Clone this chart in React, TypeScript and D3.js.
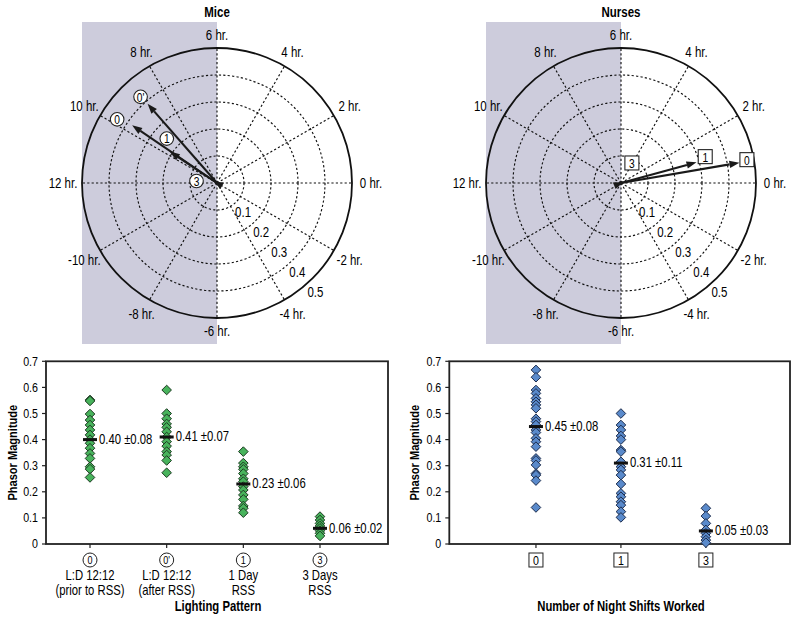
import React from "react";
import * as d3 from "d3";

// ---------- data ----------
const hourTicks = [0, 2, 4, 6, 8, 10, 12, -10, -8, -6, -4, -2];
const ringValues = [0.1, 0.2, 0.3, 0.4, 0.5];

const miceArrowLabels = ["0", "0'", "1", "3"];
const miceArrowMag = [0.38, 0.39, 0.21, 0.015];
const miceArrowHour = [9.72, 8.75, 9.76, 10];

const nurseArrowLabels = ["0", "1", "3"];
const nurseArrowMag = [0.445, 0.29, 0.01];
const nurseArrowHour = [0.65, 1.02, 1.5];

const yTicks = [0, 0.1, 0.2, 0.3, 0.4, 0.5, 0.6, 0.7];

const miceCatMarks = ["0", "0'", "1", "3"];
const miceCatLine1 = ["L:D 12:12", "L:D 12:12", "1 Day", "3 Days"];
const miceCatLine2 = ["(prior to RSS)", "(after RSS)", "RSS", "RSS"];
const mice0 = [0.552, 0.548, 0.498, 0.475, 0.456, 0.437, 0.418, 0.4, 0.386, 0.367, 0.347, 0.328, 0.296, 0.287, 0.255];
const mice0p = [0.59, 0.5, 0.48, 0.46, 0.447, 0.43, 0.41, 0.392, 0.375, 0.354, 0.341, 0.32, 0.273];
const mice1 = [0.354, 0.31, 0.296, 0.286, 0.27, 0.25, 0.239, 0.22, 0.207, 0.188, 0.171, 0.146, 0.137, 0.12];
const mice3 = [0.105, 0.092, 0.079, 0.069, 0.06, 0.051, 0.041, 0.031];
const miceMeans = [0.4, 0.41, 0.23, 0.06];
const miceSds = [0.08, 0.07, 0.06, 0.02];

const nurseCatMarks = ["0", "1", "3"];
const nurse0 = [0.667, 0.639, 0.59, 0.577, 0.558, 0.545, 0.533, 0.52, 0.48, 0.469, 0.456, 0.437, 0.427, 0.405, 0.392, 0.373, 0.328, 0.32, 0.303, 0.27, 0.264, 0.243, 0.14];
const nurse1 = [0.5, 0.456, 0.437, 0.414, 0.4, 0.36, 0.354, 0.315, 0.296, 0.284, 0.264, 0.23, 0.194, 0.181, 0.162, 0.149, 0.124, 0.102];
const nurse3 = [0.137, 0.107, 0.079, 0.054, 0.041, 0.028, 0.015, 0.005];
const nurseMeans = [0.45, 0.31, 0.05];
const nurseSds = [0.08, 0.11, 0.03];

// ---------- layout / style ----------
const FONT = "'Liberation Sans',Arial,sans-serif";
const NARROW = 0.82;
const GRAY = "#cdccdc";
const GREEN = "#48b35c";
const GREEN_STROKE = "#1d3a22";
const BLUE = "#5a8acb";
const BLUE_STROKE = "#1c2c4c";
const miceLabelOffsets = [[-15, -6], [-7, -7], [-3, -13], [-17, 0]];
const nurseLabelOffsets = [[7.5, -3], [8.7, -5.7], [8.4, -19]];

function T({ x, y, size = 13, anchor = "middle", central = true, bold = false, rotate = 0, children }: any) {
  return (
    <text
      transform={`translate(${x},${y})${rotate ? ` rotate(${rotate})` : ""} scale(${NARROW},1)`}
      textAnchor={anchor}
      dominantBaseline={central ? "central" : "auto"}
      fontSize={size}
      fontWeight={bold ? "bold" : "normal"}
      fill="#000"
    >
      {children}
    </text>
  );
}

function Polar({ cx, cy, R, title, mags, hours, labels, offsets, boxed }: any) {
  const r = d3.scaleLinear().domain([0, 0.5]).range([0, R]);
  const pt = (rad: number, hr: number) => {
    const a = (hr * 15 * Math.PI) / 180;
    return [cx + rad * Math.cos(a), cy - rad * Math.sin(a)];
  };
  const dash = "2.2,2.2";
  return (
    <g>
      <rect x={cx - R} y={22} width={R} height={322} fill={GRAY} />
      <T x={cx} y={12.5} size={14} bold>{title}</T>
      {ringValues.slice(0, 4).map((v) => (
        <circle key={v} cx={cx} cy={cy} r={r(v)} fill="none" stroke="#111" strokeWidth={1.15} strokeDasharray={dash} />
      ))}
      {hourTicks.map((h) => {
        const [x, y] = pt(R, h);
        return <line key={h} x1={cx} y1={cy} x2={x} y2={y} stroke="#111" strokeWidth={1.15} strokeDasharray={dash} />;
      })}
      <circle cx={cx} cy={cy} r={R} fill="none" stroke="#111" strokeWidth={1.8} />
      {hourTicks.map((h) => {
        const a = (h * 15 * Math.PI) / 180;
        const rr = R + 13 + 6 * Math.abs(Math.cos(a));
        const [x, y] = pt(rr, h);
        return <T key={h} x={x} y={y} size={14}>{`${h} hr.`}</T>;
      })}
      {ringValues.map((v) => {
        const [x, y] = pt(r(v) + 12, -3.2);
        return <T key={v} x={x} y={y} size={14}>{v}</T>;
      })}
      {mags.map((m: number, i: number) => {
        const [tx, ty] = pt(r(m), hours[i]);
        const a = (hours[i] * 15 * Math.PI) / 180;
        const ux = Math.cos(a), uy = -Math.sin(a);
        const head = 10, hw = 3.6;
        const bx = tx - ux * head, by = ty - uy * head;
        const px = -uy, py = ux;
        const len = r(m);
        return (
          <g key={i}>
            {len > head && <line x1={cx} y1={cy} x2={bx} y2={by} stroke="#1a1a1a" strokeWidth={2.1} />}
            <polygon
              points={`${tx},${ty} ${bx + px * hw},${by + py * hw} ${bx - px * hw},${by - py * hw}`}
              fill="#1a1a1a"
            />
          </g>
        );
      })}
      {labels.map((lab: string, i: number) => {
        const [tx, ty] = pt(r(mags[i]), hours[i]);
        const x = tx + offsets[i][0], y = ty + offsets[i][1];
        return (
          <g key={lab}>
            {boxed ? (
              <rect x={x - 7} y={y - 7} width={14} height={14} fill="#fff" stroke="#222" strokeWidth={1.1} />
            ) : (
              <circle cx={x} cy={y} r={6.8} fill="#fff" stroke="#222" strokeWidth={1.1} />
            )}
            <T x={x} y={y + 0.5} size={12.5}>{lab}</T>
          </g>
        );
      })}
    </g>
  );
}

function Scatter({ x0, x1, xDomain, groups, means, sds, marks, line1, line2, boxed, fill, stroke, xTitle, yTitleX, title }: any) {
  const top = 361.3, bottom = 544;
  const y = d3.scaleLinear().domain([0, 0.7]).range([bottom, top]);
  const x = d3.scaleLinear().domain(xDomain).range([x0, x1]);
  const diamond = (cx: number, cy: number) => {
    const s = 4.8;
    return `M${cx},${cy - s}L${cx + s},${cy}L${cx},${cy + s}L${cx - s},${cy}Z`;
  };
  return (
    <g>
      <rect x={x0} y={top} width={x1 - x0} height={bottom - top} fill="#fff" stroke="#222" strokeWidth={1.8} />
      {yTicks.map((t) => (
        <g key={t}>
          <line x1={x0 - 4} x2={x0} y1={y(t)} y2={y(t)} stroke="#222" strokeWidth={1.2} />
          <T x={x0 - 8} y={y(t)} size={13} anchor="end">{t === 0 ? "0" : t.toFixed(1)}</T>
        </g>
      ))}
      <T x={yTitleX} y={(top + bottom) / 2} size={13.5} bold rotate={-90}>Phasor Magnitude</T>
      {groups.map((vals: number[], i: number) => (
        <g key={i}>
          <line x1={x(i)} x2={x(i)} y1={bottom} y2={bottom + 4} stroke="#222" strokeWidth={1.2} />
          {vals.map((v, j) => (
            <path key={j} d={diamond(x(i), y(v))} fill={fill} stroke={stroke} strokeWidth={1} />
          ))}
          <rect x={x(i) - 7} y={y(means[i]) - 1.5} width={14} height={3} fill="#111" />
          <T x={x(i) + 9} y={y(means[i])} size={13.8} anchor="start">
            {`${means[i].toFixed(2)} ±${sds[i].toFixed(2)}`}
          </T>
          {boxed ? (
            <rect x={x(i) - 7} y={553} width={14} height={14} fill="#fff" stroke="#222" strokeWidth={1} />
          ) : (
            <circle cx={x(i)} cy={560} r={7} fill="#fff" stroke="#222" strokeWidth={1} />
          )}
          <T x={x(i)} y={560.5} size={boxed ? 13 : 11}>{marks[i]}</T>
          {line1 && <T x={x(i)} y={580} size={13.8} central={false}>{line1[i]}</T>}
          {line2 && <T x={x(i)} y={595} size={13.8} central={false}>{line2[i]}</T>}
        </g>
      ))}
      <T x={xTitle} y={611} size={13.8} bold central={false}>{title}</T>
    </g>
  );
}

export default function App() {
  return (
    <svg
      width={800}
      height={621}
      style={{ position: "absolute", left: 0, top: 0, background: "#fff", fontFamily: FONT }}
      fill="#111"
    >
      <rect width={800} height={621} fill="#fff" />
      <Polar cx={217} cy={183} R={135} title="Mice" mags={miceArrowMag} hours={miceArrowHour} labels={miceArrowLabels} offsets={miceLabelOffsets} boxed={false} />
      <Polar cx={621} cy={183} R={135} title="Nurses" mags={nurseArrowMag} hours={nurseArrowHour} labels={nurseArrowLabels} offsets={nurseLabelOffsets} boxed={true} />
      <Scatter
        x0={46}
        x1={388}
        xDomain={[-0.574, 3.887]}
        groups={[mice0, mice0p, mice1, mice3]}
        means={miceMeans}
        sds={miceSds}
        marks={miceCatMarks}
        line1={miceCatLine1}
        line2={miceCatLine2}
        boxed={false}
        fill={GREEN}
        stroke={GREEN_STROKE}
        xTitle={218}
        yTitleX={13}
        title="Lighting Pattern"
      />
      <Scatter
        x0={449.3}
        x1={790}
        xDomain={[-1.02, 2.99]}
        groups={[nurse0, nurse1, nurse3]}
        means={nurseMeans}
        sds={nurseSds}
        marks={nurseCatMarks}
        line1={null}
        line2={null}
        boxed={true}
        fill={BLUE}
        stroke={BLUE_STROKE}
        xTitle={621}
        yTitleX={415}
        title="Number of Night Shifts Worked"
      />
    </svg>
  );
}
